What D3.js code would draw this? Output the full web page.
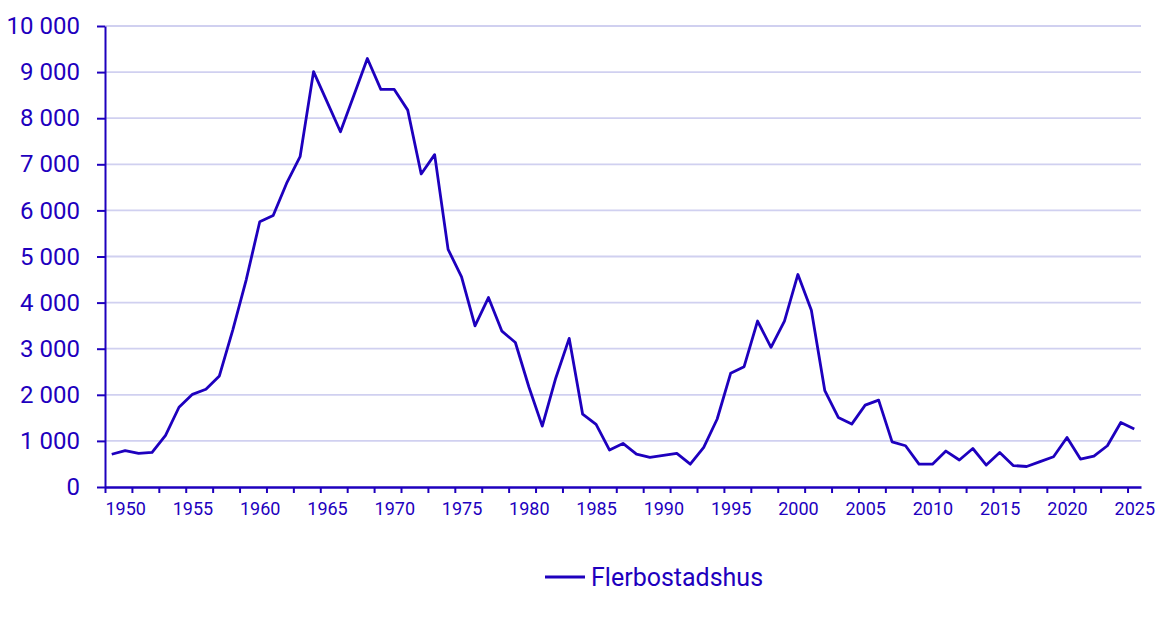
<!DOCTYPE html>
<html>
<head>
<meta charset="utf-8">
<script src="https://cdn.jsdelivr.net/npm/d3@7"></script>
<style>
  body { margin: 0; background: #fff; }
  svg text { font-family: Roboto, "Noto Sans", sans-serif; fill: #1e00be; }
</style>
</head>
<body>
<div id="chart"></div>
<script>
const years = d3.range(1949, 2026);
const values = [
  710, 790, 730, 750, 1120, 1730, 2010, 2120, 2410, 3410,
  4500, 5755, 5890, 6590, 7165, 9010, 8360, 7705, 8500, 9295,
  8625, 8625, 8175, 6790, 7210, 5155, 4560, 3495, 4110, 3380,
  3135, 2175, 1320, 2360, 3225, 1580, 1360, 800, 945, 715,
  645, 685, 730, 495, 860, 1475, 2465, 2610, 3600, 3030,
  3600, 4610, 3835, 2090, 1510, 1365, 1775, 1885, 980, 895,
  495, 495, 780, 585, 835, 475, 750, 465, 445, 550,
  655, 1075, 605, 670, 895, 1400, 1260
];
const yTicks = d3.range(0, 10001, 1000);
const labelYears = d3.range(1950, 2026, 5);
const seriesName = "Flerbostadshus";

const config = { width: 1167, height: 622, left: 105, right: 1141, top: 26, bottom: 487 };
const blue = "#1e00be";
const grid = "#d0d0f0";

const svg = d3.select("#chart").append("svg")
  .attr("width", config.width)
  .attr("height", config.height);

const x = d3.scaleLinear().domain([1948.5, 2025.5]).range([config.left, config.right]);
const y = d3.scaleLinear().domain([0, 10000]).range([config.bottom, config.top]);

const fmt = d3.formatLocale({ decimal: ",", thousands: " ", grouping: [3], currency: ["", " kr"] }).format(",d");

// gridlines
svg.append("g")
  .selectAll("line")
  .data(yTicks.filter(d => d > 0))
  .join("line")
  .attr("x1", config.left)
  .attr("x2", config.right)
  .attr("y1", d => y(d))
  .attr("y2", d => y(d))
  .attr("stroke", grid)
  .attr("stroke-width", 1.8);

// y axis
const yAxis = svg.append("g")
  .attr("transform", `translate(${config.left},0)`)
  .call(d3.axisLeft(y).tickValues(yTicks).tickFormat(fmt).tickSize(8).tickSizeOuter(0).tickPadding(17));
yAxis.select(".domain").attr("stroke", blue).attr("stroke-width", 2);
yAxis.selectAll(".tick line").attr("stroke", blue).attr("stroke-width", 2);
yAxis.selectAll(".tick text").style("font-size", "24px").attr("fill", blue);

// x axis: tick marks every two years at band edges
const tickEdges = d3.range(1948.5, 2025.6, 2);
const xAxis = svg.append("g")
  .attr("transform", `translate(0,${config.bottom})`)
  .call(d3.axisBottom(x).tickValues(tickEdges).tickFormat("").tickSize(6).tickSizeOuter(0));
xAxis.select(".domain").attr("stroke", blue).attr("stroke-width", 2.5);
xAxis.selectAll(".tick line").attr("stroke", blue).attr("stroke-width", 2);

// x labels
const xLabels = svg.append("g")
  .attr("transform", `translate(0,${config.bottom})`)
  .call(d3.axisBottom(x).tickValues(labelYears).tickFormat(d3.format("d")).tickSize(0).tickPadding(15));
xLabels.select(".domain").remove();
xLabels.selectAll(".tick text").style("font-size", "18px").attr("fill", blue);

// line
const line = d3.line()
  .x((d, i) => x(years[i]))
  .y(d => y(d));

svg.append("path")
  .datum(values)
  .attr("fill", "none")
  .attr("stroke", blue)
  .attr("stroke-width", 2.8)
  .attr("stroke-linejoin", "round")
  .attr("d", line);

// legend
const legend = svg.append("g").attr("transform", "translate(545,577)");
legend.append("line")
  .attr("x1", 0).attr("x2", 40)
  .attr("stroke", blue).attr("stroke-width", 3);
legend.append("text")
  .attr("x", 46)
  .attr("y", 8.5)
  .style("font-size", "25px")
  .text(seriesName);
</script>
</body>
</html>
